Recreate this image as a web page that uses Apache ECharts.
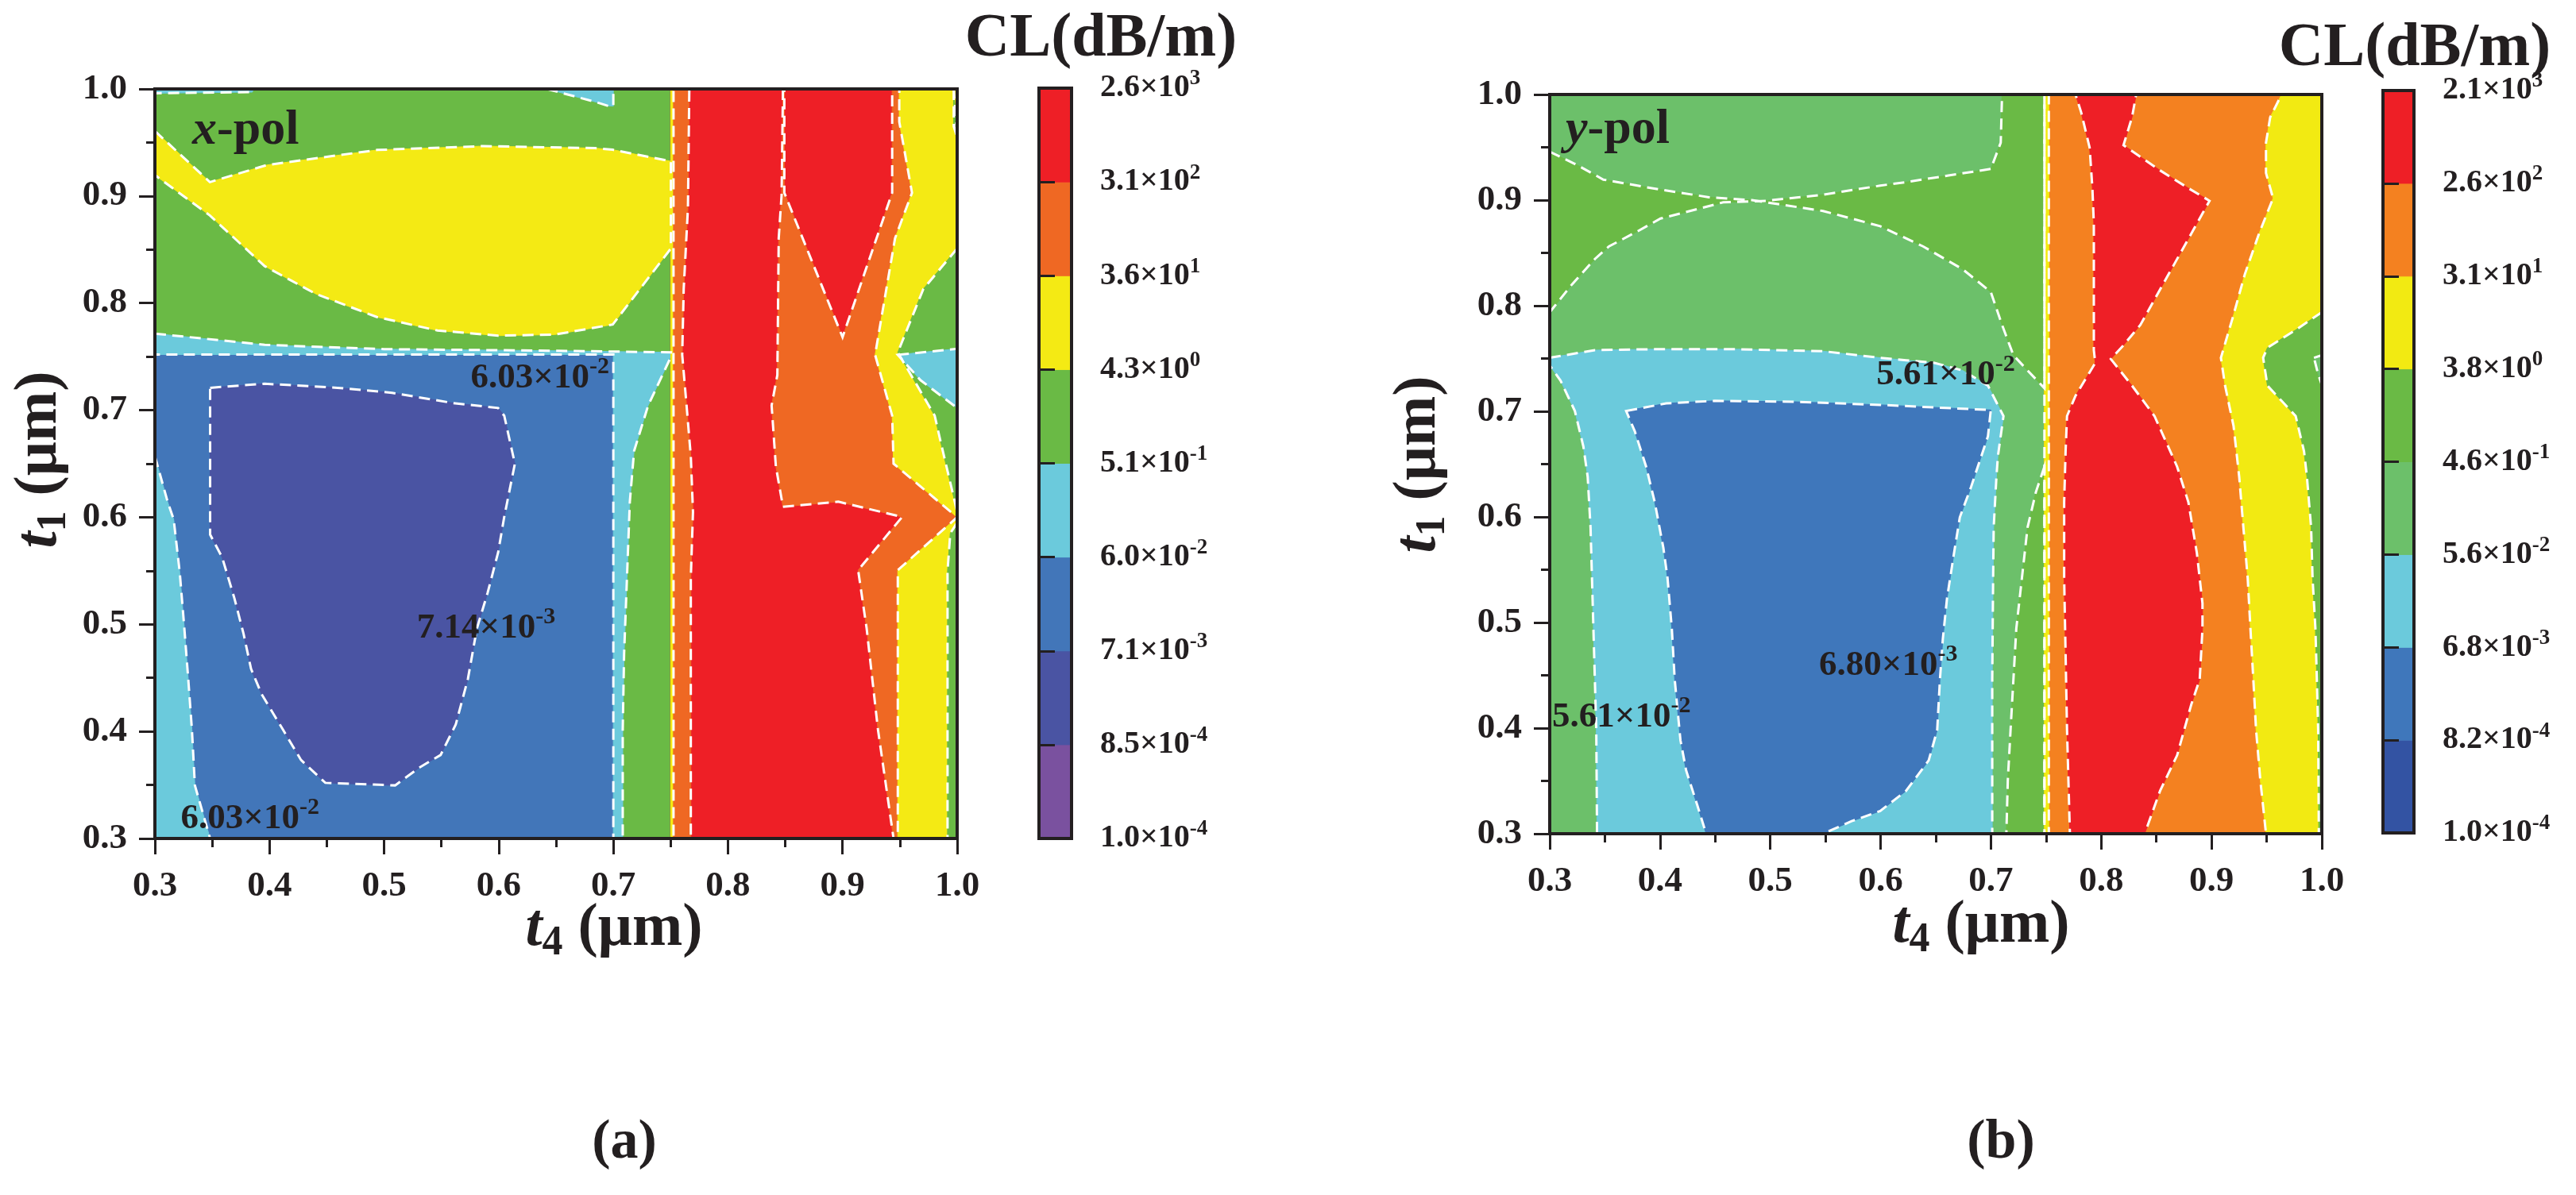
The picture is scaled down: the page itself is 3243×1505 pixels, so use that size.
<!DOCTYPE html>
<html>
<head>
<meta charset="utf-8">
<script src="https://cdn.jsdelivr.net/npm/echarts@6/dist/echarts.min.js"></script>
<style>
html,body{margin:0;padding:0;background:#fff;}
#chart{width:3243px;height:1505px;}
</style>
</head>
<body>
<div id="chart"></div>
<script>
// ---- colour levels (low -> high) ----
var levelsA = ['#7a519f', '#4a54a3', '#4276b9', '#6bcadc', '#6aba45', '#f4ea14', '#ef6823', '#ee1f26'];
var levelsB = ['#3353a3', '#3f77bb', '#6bcadc', '#6cc06a', '#6aba45', '#f2ea12', '#f48120', '#ee1f26'];

// colorbar tick labels: mantissa and exponent
var cbMantA = ['1.0', '8.5', '7.1', '6.0', '5.1', '4.3', '3.6', '3.1', '2.6'];
var cbExpA  = ['-4', '-4', '-3', '-2', '-1', '0', '1', '2', '3'];
var cbMantB = ['1.0', '8.2', '6.8', '5.6', '4.6', '3.8', '3.1', '2.6', '2.1'];
var cbExpB  = ['-4', '-4', '-3', '-2', '-1', '0', '1', '2', '3'];
var cbSteps = [0, 1, 2, 3, 4, 5, 6, 7];

// ---- (a) x-pol : contour regions, [t4, t1] in um ----
var aGreenField = [[0.3,0.3],[0.7502,0.3],[0.7502,1.0],[0.3,1.0]];
var aRedField = [[0.75,0.3],[1.0,0.3],[1.0,1.0],[0.75,1.0]];
var aYellowLens = [[0.3,0.9607],[0.348,0.913],[0.398,0.929],[0.494,0.943],[0.586,0.9466],[0.684,0.9447],[0.6995,0.9432],[0.7502,0.9324],[0.7502,0.851],[0.6995,0.78],[0.649,0.7706],[0.5995,0.7696],[0.5466,0.7744],[0.4937,0.787],[0.4408,0.8084],[0.3958,0.8345],[0.348,0.8818],[0.3,0.9196]];
var aCyanTopL = [[0.3,1.0],[0.3,0.996],[0.385,0.997],[0.386,1.0]];
var aCyanTopR = [[0.642,1.0],[0.684,0.988],[0.696,0.984],[0.70,0.984],[0.70,1.0]];
var aBlueField = [[0.3,0.3],[0.70,0.3],[0.70,0.752],[0.3,0.752]];
var aCyanBand = [[0.3,0.7715],[0.3958,0.761],[0.5,0.757],[0.65,0.7555],[0.7502,0.754],[0.749,0.747],[0.7304,0.7044],[0.7181,0.6618],[0.7144,0.6145],[0.7119,0.5436],[0.7094,0.4726],[0.7082,0.4017],[0.7082,0.3],[0.70,0.3],[0.70,0.752],[0.3,0.752]];
var aCyanLow = [[0.3,0.657],[0.3111,0.6145],[0.3164,0.598],[0.3217,0.5483],[0.3257,0.4963],[0.3291,0.449],[0.3323,0.4017],[0.3349,0.3496],[0.3482,0.3],[0.3,0.3]];
var aDeep = [[0.3482,0.7209],[0.3958,0.7247],[0.4593,0.7209],[0.5069,0.7162],[0.5598,0.7067],[0.5995,0.702],[0.6048,0.6949],[0.6141,0.65],[0.6048,0.6003],[0.5995,0.5672],[0.5903,0.5294],[0.581,0.4963],[0.5731,0.449],[0.5625,0.4064],[0.5493,0.378],[0.5307,0.3662],[0.5096,0.3496],[0.4487,0.352],[0.4275,0.3733],[0.4117,0.4017],[0.3931,0.4348],[0.3839,0.4584],[0.3773,0.4915],[0.3693,0.5246],[0.3587,0.5625],[0.3482,0.5838]];
var aYellowSliver = [[0.7502,0.3],[0.7525,0.3],[0.7525,1.0],[0.7502,1.0]];
var aOrangeStrip = [[0.7525,1.0],[0.7663,1.0],[0.7651,0.8888],[0.7614,0.8132],[0.7601,0.7517],[0.7639,0.7044],[0.7676,0.657],[0.7695,0.605],[0.7676,0.5436],[0.7676,0.3],[0.7525,0.3]];
var aOrangeEast = [[0.848,1.0],[0.8468,0.9007],[0.8443,0.8605],[0.8431,0.7328],[0.8381,0.7044],[0.8418,0.6476],[0.848,0.6098],[0.8963,0.6145],[0.952,0.6003],[0.9136,0.5506],[0.921,0.4963],[0.9309,0.4017],[0.9445,0.3],[0.9482,0.3],[0.9482,0.5506],[1.0,0.6],[0.9445,0.65],[0.9433,0.6949],[0.9284,0.7517],[0.9458,0.8605],[0.9606,0.903],[0.9495,0.9693],[0.9495,1.0],[0.9433,1.0],[0.9433,0.903],[0.90,0.7682],[0.8492,0.903],[0.8492,1.0]];
var aYellowEast = [[0.9495,1.0],[1.0,1.0],[1.0,0.3],[0.9482,0.3],[0.9482,0.5506],[1.0,0.6],[0.9445,0.65],[0.9433,0.6949],[0.9284,0.7517],[0.9458,0.8605],[0.9606,0.903],[0.9495,0.9693]];
var aGreenEast = [[1.0,0.851],[0.9705,0.8132],[0.9482,0.754],[0.9804,0.6949],[0.9854,0.6713],[1.0,0.605]];
var aCyanEast = [[0.9482,0.7517],[1.0,0.7573],[1.0,0.702],[0.968,0.728]];
var aGreenSE = [[1.0,0.595],[0.994,0.585],[0.9916,0.55],[0.9916,0.3],[1.0,0.3]];
var aGreenNE = [[0.997,1.0],[0.997,0.965],[1.0,0.955]];

// ---- (b) y-pol ----
var bPaleField = [[0.3,0.3],[0.7485,0.3],[0.7485,1.0],[0.3,1.0]];
var bOrangeField = [[0.7485,0.3],[1.0,0.3],[1.0,1.0],[0.7485,1.0]];
var bGreenCross = [[0.3,0.9458],[0.3254,0.9329],[0.3486,0.9194],[0.3926,0.9113],[0.4444,0.9027],[0.4832,0.9],[0.4961,0.8979],[0.5478,0.8897],[0.5996,0.8753],[0.6384,0.8562],[0.6743,0.8346],[0.6999,0.813],[0.7101,0.7818],[0.7204,0.7531],[0.7332,0.7387],[0.7485,0.7219],[0.7485,1.0],[0.7101,1.0],[0.7089,0.9544],[0.6999,0.9295],[0.6615,0.9233],[0.6231,0.917],[0.5996,0.9137],[0.5478,0.9051],[0.4961,0.8993],[0.4573,0.8979],[0.4185,0.8873],[0.4004,0.8825],[0.3797,0.8705],[0.3538,0.8562],[0.3409,0.8442],[0.3202,0.8202],[0.3,0.7938]];
var bCyan = [[0.3,0.7507],[0.3409,0.7579],[0.3926,0.7588],[0.4702,0.7588],[0.5478,0.7569],[0.5996,0.7507],[0.6231,0.7483],[0.6487,0.7459],[0.6743,0.7387],[0.6973,0.7243],[0.7114,0.6955],[0.7063,0.6572],[0.705,0.638],[0.7025,0.59],[0.702,0.5421],[0.7012,0.4462],[0.7012,0.3],[0.3429,0.3],[0.3422,0.3982],[0.3409,0.4462],[0.3396,0.4941],[0.3383,0.5421],[0.337,0.59],[0.3344,0.638],[0.3305,0.6667],[0.3228,0.7003],[0.3098,0.7291],[0.3,0.7435]];
var bBlue = [[0.3693,0.7003],[0.4056,0.7075],[0.4495,0.7099],[0.522,0.709],[0.5996,0.7061],[0.6689,0.7027],[0.6999,0.7013],[0.6973,0.6763],[0.682,0.6284],[0.6718,0.5996],[0.6666,0.566],[0.6602,0.5229],[0.6564,0.4845],[0.6538,0.4462],[0.6513,0.3982],[0.6436,0.3694],[0.6231,0.3406],[0.5996,0.3215],[0.5737,0.3119],[0.5478,0.3],[0.4418,0.3],[0.434,0.3263],[0.4237,0.3598],[0.4185,0.3886],[0.4133,0.4462],[0.4107,0.4941],[0.4068,0.5421],[0.403,0.5708],[0.3952,0.614],[0.3874,0.6476],[0.3771,0.6811]];
var bGreenLow = [[0.7485,0.6476],[0.7408,0.6236],[0.7332,0.59],[0.7281,0.5421],[0.723,0.4941],[0.7204,0.4462],[0.7178,0.3982],[0.7153,0.3502],[0.714,0.3],[0.7485,0.3]];
var bYellowSliver = [[0.7485,0.3],[0.7525,0.3],[0.7525,1.0],[0.7485,1.0]];
var bRed = [[0.7767,1.0],[0.8317,1.0],[0.8279,0.9784],[0.8202,0.952],[0.8534,0.9281],[0.879,0.9113],[0.8982,0.8993],[0.879,0.8633],[0.8534,0.8154],[0.8355,0.7818],[0.8202,0.7626],[0.8087,0.7495],[0.8279,0.7243],[0.8483,0.6955],[0.8586,0.6715],[0.8688,0.6476],[0.879,0.614],[0.8867,0.566],[0.8918,0.5181],[0.8918,0.4941],[0.8893,0.4462],[0.8816,0.4222],[0.8688,0.3742],[0.8534,0.3407],[0.8394,0.3],[0.7716,0.3],[0.769,0.3982],[0.7677,0.4701],[0.7664,0.5421],[0.7664,0.614],[0.7677,0.662],[0.769,0.6955],[0.7767,0.7147],[0.7946,0.7459],[0.7933,0.7579],[0.7933,0.8298],[0.7933,0.8777],[0.792,0.9113],[0.7895,0.9497],[0.7818,0.9832]];
var bYellowEast = [[0.9635,1.0],[1.0,1.0],[1.0,0.3],[0.9494,0.3],[0.9443,0.3502],[0.9404,0.3982],[0.9379,0.4462],[0.9353,0.4941],[0.9328,0.5421],[0.9289,0.59],[0.9251,0.638],[0.92,0.6859],[0.9123,0.7243],[0.9085,0.7507],[0.92,0.7914],[0.9302,0.8298],[0.943,0.8681],[0.9558,0.9017],[0.9494,0.9257],[0.9494,0.9544],[0.9532,0.9784]];
var bGreenEast = [[1.0,0.7938],[0.9763,0.777],[0.9507,0.7602],[0.9468,0.7507],[0.9507,0.7243],[0.9635,0.7099],[0.9763,0.6955],[0.9839,0.662],[0.9865,0.638],[0.9903,0.59],[0.9916,0.5421],[0.9942,0.4941],[0.9955,0.4462],[0.9967,0.3982],[0.9973,0.3],[1.0,0.3]];
var bPaleTiny = [[0.9929,0.7507],[1.0,0.7531],[1.0,0.725],[0.9967,0.735]];

// contour value labels: position [t4, t1] and text [mantissa, exponent]
var labelPosA = [[0.636, 0.730], [0.589, 0.496], [0.383, 0.318]];
var labelTxtA = [['6.03', '-2'], ['7.14', '-3'], ['6.03', '-2']];
var labelPosB = [[0.659, 0.734], [0.607, 0.459], [0.365, 0.410]];
var labelTxtB = [['5.61', '-2'], ['6.80', '-3'], ['5.61', '-2']];

// paint order: later layers lie on top; lv = colour level, line = dashed contour edge
var layersA = [
  {pts: aGreenField, lv: 4}, {pts: aRedField, lv: 7},
  {pts: aYellowLens, lv: 5, line: true}, {pts: aCyanTopL, lv: 3, line: true},
  {pts: aCyanTopR, lv: 3, line: true}, {pts: aBlueField, lv: 2},
  {pts: aCyanBand, lv: 3, line: true}, {pts: aCyanLow, lv: 3, line: true},
  {pts: aDeep, lv: 1, line: true}, {pts: aYellowSliver, lv: 5},
  {pts: aOrangeStrip, lv: 6, line: true}, {pts: aOrangeEast, lv: 6, line: true},
  {pts: aYellowEast, lv: 5}, {pts: aGreenEast, lv: 4, line: true},
  {pts: aCyanEast, lv: 3, line: true}, {pts: aGreenSE, lv: 4, line: true},
  {pts: aGreenNE, lv: 4, line: true}
];
var layersB = [
  {pts: bPaleField, lv: 3}, {pts: bOrangeField, lv: 6},
  {pts: bGreenCross, lv: 4, line: true}, {pts: bCyan, lv: 2, line: true},
  {pts: bBlue, lv: 1, line: true}, {pts: bGreenLow, lv: 4, line: true},
  {pts: bYellowSliver, lv: 5, line: true}, {pts: bRed, lv: 7, line: true},
  {pts: bYellowEast, lv: 5, line: true}, {pts: bGreenEast, lv: 4, line: true},
  {pts: bPaleTiny, lv: 3, line: true}
];

var ink = '#231f20';
var serif = '"Liberation Serif", "Times New Roman", serif';

function fillItem(layers, palette) {
  return function (params, api) {
    var L = layers[params.dataIndex];
    var pts = L.pts.map(function (p) { return api.coord(p); });
    return {type: 'polygon', shape: {points: pts},
      style: {fill: palette[L.lv], stroke: palette[L.lv], lineWidth: 1}};
  };
}
function lineItem(layers) {
  return function (params, api) {
    var L = layers[params.dataIndex];
    if (!L.line) return null;
    var pts = L.pts.map(function (p) { return api.coord(p); });
    return {type: 'polygon', shape: {points: pts},
      style: {fill: null, stroke: '#ffffff', lineWidth: 3, lineDash: [14, 8]}};
  };
}
function textItem(pos, txt) {
  return function (params, api) {
    var p = api.coord(pos[params.dataIndex]);
    var t = txt[params.dataIndex];
    return {type: 'text', x: p[0], y: p[1],
      style: {text: '{m|' + t[0] + '×10}{s|' + t[1] + '}', align: 'center', verticalAlign: 'middle',
        rich: {
          m: {fontFamily: serif, fontWeight: 'bold', fontSize: 45, lineHeight: 58, fill: ink},
          s: {fontFamily: serif, fontWeight: 'bold', fontSize: 30, lineHeight: 30, verticalAlign: 'top', fill: ink}
        }}};
  };
}
function barItem(palette) {
  return function (params, api) {
    var i = params.dataIndex;
    var p0 = api.coord([0, i]);
    var p1 = api.coord([1, i + 1]);
    return {type: 'rect', shape: {x: p0[0], y: p1[1], width: p1[0] - p0[0], height: p0[1] - p1[1]},
      style: {fill: palette[i], stroke: palette[i], lineWidth: 1}};
  };
}

function mainX(gi) {
  return {gridIndex: gi, type: 'value', min: 0.3, max: 1.0, interval: 0.1, z: 12,
    axisLine: {show: true, onZero: false, lineStyle: {color: ink, width: 4}},
    axisTick: {show: true, inside: false, length: 20, lineStyle: {color: ink, width: 3}},
    minorTick: {show: true, splitNumber: 2, length: 11, lineStyle: {color: ink, width: 3}},
    axisLabel: {margin: 38, fontFamily: serif, fontWeight: 'bold', fontSize: 45, color: ink,
      formatter: function (v) { return v.toFixed(1); }},
    splitLine: {show: false}, minorSplitLine: {show: false}};
}
function mainY(gi) {
  var a = mainX(gi);
  a.axisLabel.margin = 35;
  return a;
}
function cbX(gi) {
  return {gridIndex: gi, type: 'value', min: 0, max: 1, show: false};
}
function cbY(gi, mant, expo) {
  return {gridIndex: gi, type: 'value', min: 0, max: 8, interval: 1, position: 'right', z: 12,
    axisLine: {show: true, lineStyle: {color: ink, width: 4}},
    axisTick: {show: true, length: 20, lineStyle: {color: ink, width: 3}},
    splitLine: {show: false},
    axisLabel: {margin: 36,
      formatter: function (v) { var i = Math.round(v); return '{m|' + mant[i] + '×10}{s|' + expo[i] + '}'; },
      rich: {
        m: {fontFamily: serif, fontWeight: 'bold', fontSize: 40, lineHeight: 50, color: ink},
        s: {fontFamily: serif, fontWeight: 'bold', fontSize: 27, lineHeight: 27, verticalAlign: 'top', color: ink}
      }}};
}
function frame(l, t, w, h) {
  return {left: l, top: t, width: w, height: h, show: true, z: 10,
    borderColor: ink, borderWidth: 4, backgroundColor: 'transparent'};
}

function axisTitle(x, y, sub, rot) {
  return {type: 'text', x: x, y: y, rotation: rot || 0, z: 20,
    style: {text: '{i|t}{s|' + sub + '}{n| (μm)}', align: 'center', verticalAlign: 'middle',
      rich: {
        i: {fontFamily: serif, fontWeight: 'bold', fontStyle: 'italic', fontSize: 76, lineHeight: 90, fill: ink},
        s: {fontFamily: serif, fontWeight: 'bold', fontSize: 52, lineHeight: 52, verticalAlign: 'bottom', fill: ink},
        n: {fontFamily: serif, fontWeight: 'bold', fontSize: 76, lineHeight: 90, fill: ink}
      }}};
}
function polTitle(x, y, letter) {
  return {type: 'text', x: x, y: y, z: 20,
    style: {text: '{i|' + letter + '}{n|-pol}', align: 'left', verticalAlign: 'middle',
      rich: {
        i: {fontFamily: serif, fontWeight: 'bold', fontStyle: 'italic', fontSize: 62, fill: ink},
        n: {fontFamily: serif, fontWeight: 'bold', fontSize: 62, fill: ink}
      }}};
}
function plainText(x, y, s, size) {
  return {type: 'text', x: x, y: y, z: 20,
    style: {text: s, align: 'center', verticalAlign: 'middle', fontFamily: serif,
      fontWeight: 'bold', fontSize: size, fill: ink}};
}

var chart = echarts.init(document.getElementById('chart'));
var option = {
  backgroundColor: '#ffffff',
  animation: false,
  grid: [
    frame(195, 112, 1010, 944),
    frame(1308, 111, 41, 945),
    frame(1951, 119, 972, 931),
    frame(3000, 114, 39, 935)
  ],
  xAxis: [mainX(0), cbX(1), mainX(2), cbX(3)],
  yAxis: [mainY(0), cbY(1, cbMantA, cbExpA), mainY(2), cbY(3, cbMantB, cbExpB)],
  series: [
    {type: 'custom', xAxisIndex: 0, yAxisIndex: 0, clip: true, renderItem: fillItem(layersA, levelsA),
      data: layersA.map(function (L) { return L.pts[0]; })},
    {type: 'custom', xAxisIndex: 0, yAxisIndex: 0, clip: true, renderItem: lineItem(layersA),
      data: layersA.map(function (L) { return L.pts[0]; })},
    {type: 'custom', xAxisIndex: 0, yAxisIndex: 0, renderItem: textItem(labelPosA, labelTxtA), data: labelPosA},
    {type: 'custom', xAxisIndex: 1, yAxisIndex: 1, renderItem: barItem(levelsA),
      data: cbSteps.map(function (i) { return [0, i]; })},
    {type: 'custom', xAxisIndex: 2, yAxisIndex: 2, clip: true, renderItem: fillItem(layersB, levelsB),
      data: layersB.map(function (L) { return L.pts[0]; })},
    {type: 'custom', xAxisIndex: 2, yAxisIndex: 2, clip: true, renderItem: lineItem(layersB),
      data: layersB.map(function (L) { return L.pts[0]; })},
    {type: 'custom', xAxisIndex: 2, yAxisIndex: 2, renderItem: textItem(labelPosB, labelTxtB), data: labelPosB},
    {type: 'custom', xAxisIndex: 3, yAxisIndex: 3, renderItem: barItem(levelsB),
      data: cbSteps.map(function (i) { return [0, i]; })}
  ],
  graphic: [
    polTitle(242, 165, 'x'),
    polTitle(1971, 164, 'y'),
    axisTitle(773, 1170, '4'),
    axisTitle(2494, 1166, '4'),
    axisTitle(50, 579, '1', Math.PI / 2),
    axisTitle(1786, 585, '1', Math.PI / 2),
    plainText(1386, 50, 'CL(dB/m)', 78),
    plainText(3040, 62, 'CL(dB/m)', 78),
    plainText(786, 1440, '(a)', 70),
    plainText(2519, 1440, '(b)', 70)
  ]
};
chart.setOption(option);
</script>
</body>
</html>
